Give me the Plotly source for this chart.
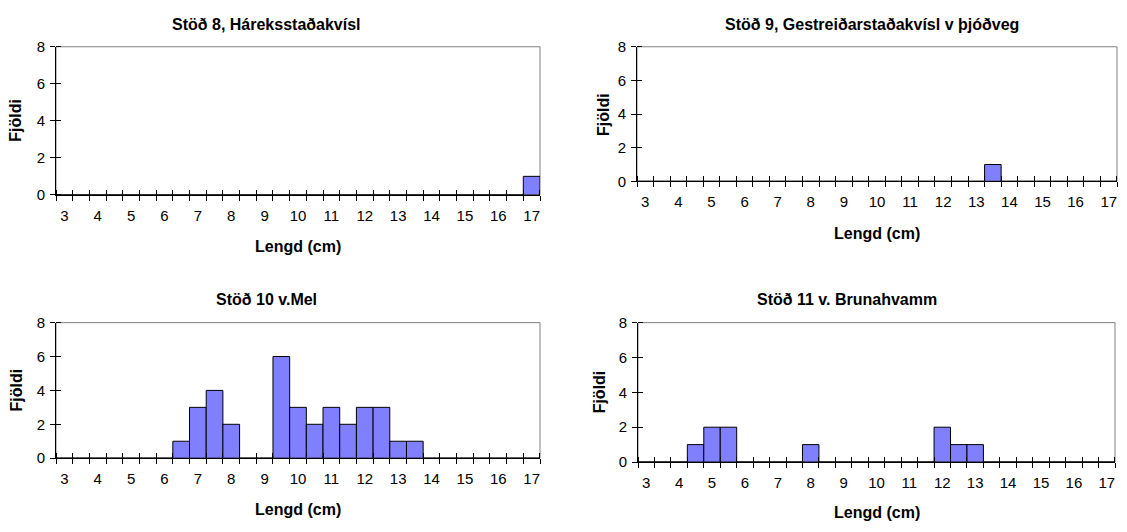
import plotly.graph_objects as go

# ---- data ----
lengths = [3 + 0.5 * i for i in range(29)]  # 3, 3.5, ..., 17 (cm classes)
tick_labels = [str(v) for v in range(3, 18)]

titles = [
    "Stöð 8, Háreksstaðakvísl",
    "Stöð 9, Gestreiðarstaðakvísl v þjóðveg",
    "Stöð 10 v.Mel",
    "Stöð 11 v. Brunahvamm",
]

counts_st8 = {17.0: 1}
counts_st9 = {13.5: 1}
counts_st10 = {6.5: 1, 7.0: 3, 7.5: 4, 8.0: 2, 9.5: 6, 10.0: 3, 10.5: 2,
               11.0: 3, 11.5: 2, 12.0: 3, 12.5: 3, 13.0: 1, 13.5: 1}
counts_st11 = {4.5: 1, 5.0: 2, 5.5: 2, 8.0: 1, 12.0: 2, 12.5: 1, 13.0: 1}

series = [counts_st8, counts_st9, counts_st10, counts_st11]

y_ticks = [0, 2, 4, 6, 8]
x_label = "Lengd (cm)"
y_label = "Fjöldi"

# ---- layout geometry (pixels) ----
W, H = 1127, 532
# (left, right, top, bottom) of each plot area
boxes = [(56, 540, 39, 192), (637, 1117, 39, 178),
         (56, 540, 324, 464), (638, 1115, 324, 468)]
title_pos = [(266, 16), (872, 16), (266, 300), (847, 300)]
xtitle_y = [245, 232, 517, 520]
ytitle_x = [16, 603, 16, 599]

FONT = "Liberation Sans, Arial, sans-serif"
BAR = "#8080FF"

fig = go.Figure()

half = 0.25
boundaries = [lengths[0] - half] + [v + half for v in lengths]
eps = 1e-3
bnd_minor = [b + eps if i == 0 else b - eps for i, b in enumerate(boundaries)]
y_minor = [v + eps if v < max(y_ticks) else v - eps for v in y_ticks]
xr = [boundaries[0], boundaries[-1]]
label_vals = [float(s) for s in tick_labels]

annotations = []
shapes = []
for i, (cnt, box) in enumerate(zip(series, boxes)):
    n = i + 1
    xs = "x" if n == 1 else f"x{n}"
    ys = "y" if n == 1 else f"y{n}"
    on = n + 4
    xo = f"x{on}"
    vals = [cnt.get(v, 0) for v in lengths]
    fig.add_trace(go.Bar(
        x=lengths, y=vals, width=0.5, xaxis=xs, yaxis=ys,
        marker=dict(color=BAR, line=dict(color="black", width=1)),
        showlegend=False, hoverinfo="x+y",
    ))
    # invisible helper so the label axis gets drawn
    fig.add_trace(go.Scatter(
        x=[label_vals[0]], y=[0], xaxis=xo, yaxis=ys, mode="markers",
        marker=dict(opacity=0, size=1), showlegend=False, hoverinfo="skip",
    ))
    l, r, t, b = box
    xd = [l / W, r / W]
    yd = [1 - b / H, 1 - t / H]
    xa = "xaxis" if n == 1 else f"xaxis{n}"
    ya = "yaxis" if n == 1 else f"yaxis{n}"
    fig.update_layout({
        xa: dict(domain=xd, anchor=ys, range=xr, showgrid=False, zeroline=False,
                 showline=True, linecolor="black", linewidth=1,
                 tickmode="array", tickvals=boundaries,
                 ticktext=[""] * len(boundaries),
                 ticks="outside", ticklen=5, tickcolor="black", tickwidth=1,
                 minor=dict(tickmode="array", tickvals=bnd_minor, ticks="inside",
                            ticklen=5, tickcolor="black", tickwidth=1, showgrid=False),
                 fixedrange=True),
        ya: dict(domain=yd, anchor=xs, range=[0, 8], showgrid=False, zeroline=False,
                 showline=True, linecolor="black", linewidth=1,
                 tickmode="array", tickvals=y_ticks,
                 ticks="outside", ticklen=5, tickcolor="black", tickwidth=1,
                 ticklabelstandoff=2,
                 tickfont=dict(family=FONT, size=15, color="black"),
                 minor=dict(tickmode="array", tickvals=y_minor, ticks="inside",
                            ticklen=5, tickcolor="black", tickwidth=1, showgrid=False),
                 fixedrange=True),
        f"xaxis{on}": dict(overlaying=xs, anchor=ys, range=xr, side="bottom",
                           domain=xd,
                           showgrid=False, zeroline=False, showline=False,
                           tickmode="array", tickvals=label_vals,
                           ticktext=tick_labels, ticks="outside", ticklen=7,
                           tickcolor="rgba(0,0,0,0)",
                           tickfont=dict(family=FONT, size=15, color="black"),
                           fixedrange=True),
    })
    # grey frame (top/right) of plot area
    shapes.append(dict(type="rect", xref=f"{xs} domain", yref=f"{ys} domain",
                       x0=0, x1=1, y0=0, y1=1, layer="below",
                       line=dict(color="#808080", width=1)))
    tx, ty = title_pos[i]
    annotations.append(dict(text=f"<b>{titles[i]}</b>", x=tx / W, y=1 - ty / H,
                            xref="paper", yref="paper", showarrow=False,
                            xanchor="center", yanchor="middle",
                            font=dict(family=FONT, size=16, color="black")))
    annotations.append(dict(text=f"<b>{x_label}</b>", x=(l + r) / 2 / W,
                            y=1 - xtitle_y[i] / H, xref="paper", yref="paper",
                            showarrow=False, xanchor="center", yanchor="middle",
                            font=dict(family=FONT, size=16, color="black")))
    annotations.append(dict(text=f"<b>{y_label}</b>", x=ytitle_x[i] / W,
                            y=1 - (t + b) / 2 / H, xref="paper", yref="paper",
                            showarrow=False, textangle=-90,
                            xanchor="center", yanchor="middle",
                            font=dict(family=FONT, size=16, color="black")))

fig.update_layout(
    width=W, height=H, margin=dict(l=0, r=0, t=0, b=0),
    paper_bgcolor="white", plot_bgcolor="white",
    bargap=0, annotations=annotations, shapes=shapes,
    font=dict(family=FONT, size=16, color="black"),
)

fig.write_html(
    "out.html",
    config={"displayModeBar": False, "staticPlot": True},
    post_script="document.body.style.margin='0';"
                "document.body.style.padding='0';"
                "document.body.style.overflow='hidden';",
)
